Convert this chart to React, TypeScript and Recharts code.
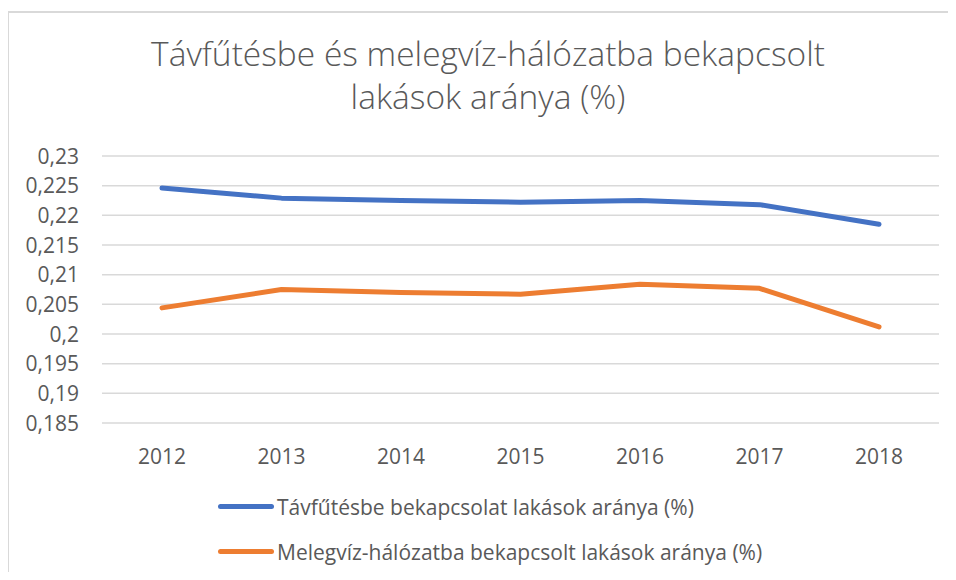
import React from "react";
import {
  LineChart, Line, XAxis, YAxis, CartesianGrid, Legend,
} from "recharts";

const years = ["2012", "2013", "2014", "2015", "2016", "2017", "2018"];
const tavfutes = [0.2246, 0.2229, 0.2225, 0.2222, 0.2225, 0.2218, 0.2185];
const melegviz = [0.2044, 0.2075, 0.207, 0.2067, 0.2084, 0.2077, 0.2012];
const yTicks = [0.185, 0.19, 0.195, 0.2, 0.205, 0.21, 0.215, 0.22, 0.225, 0.23];

const nameA = "Távfűtésbe bekapcsolat lakások aránya (%)";
const nameB = "Melegvíz-hálózatba bekapcsolt lakások aránya (%)";
const legendOrder = [nameA, nameB];

const data = years.map((y, i) => ({ year: y, a: tavfutes[i], b: melegviz[i] }));

const FONT = "'Open Sans', sans-serif";
const GRAY = "#595959";

const YTick = ({ y, payload }: any) => (
  <text x={79} y={y} dy={7.5} textAnchor="end" fill={GRAY} fontSize={21} fontFamily={FONT}>
    {String(payload.value).replace(".", ",")}
  </text>
);

const XTick = ({ x, y, payload }: any) => (
  <text x={x} y={y + 39} textAnchor="middle" fill={GRAY} fontSize={21} fontFamily={FONT}>
    {payload.value}
  </text>
);

const LegendBox = ({ payload }: any) => {
  const items = [...(payload || [])].sort(
    (p: any, q: any) => legendOrder.indexOf(p.value) - legendOrder.indexOf(q.value)
  );
  return (
    <div style={{ paddingLeft: 218, paddingTop: 21, fontFamily: FONT, fontSize: 21, color: GRAY }}>
      {items.map((p: any) => (
        <div key={p.value} style={{ display: "flex", alignItems: "center", height: 45 }}>
          <span style={{ width: 56, height: 5, borderRadius: 3, background: p.color, marginRight: 3 }} />
          <span>{p.value}</span>
        </div>
      ))}
    </div>
  );
};

export default function App() {
  return (
    <div style={{ margin: -8, width: 956, height: 580, position: "relative", overflow: "hidden", background: "#fff" }}>
      <div style={{
        position: "absolute", left: 7, top: 11, width: 1000, height: 1000,
        borderTop: "2px solid #d9d9d9", borderLeft: "2px solid #d9d9d9",
      }} />
      <div style={{
        position: "absolute", left: 0, top: 32, width: 976, textAlign: "center",
        fontFamily: FONT, fontWeight: 300, fontSize: 33.5, lineHeight: "43px", color: GRAY,
      }}>
        Távfűtésbe és melegvíz-hálózatba bekapcsolt<br />lakások aránya (%)
      </div>
      <div style={{ position: "absolute", left: 0, top: 0 }}>
        <LineChart width={956} height={580} data={data} margin={{ top: 156, right: 17, left: 0, bottom: 0 }}>
          <CartesianGrid vertical={false} stroke="#d9d9d9" strokeWidth={1.5} />
          <XAxis dataKey="year" height={40} axisLine={false} tickLine={false} tickSize={0}
            padding={{ left: 60, right: 60 }} tick={<XTick />} interval={0} />
          <YAxis width={102} domain={[0.185, 0.23]} ticks={yTicks} axisLine={false} tickLine={false}
            tick={<YTick />} interval={0} allowDataOverflow />
          <Legend verticalAlign="bottom" align="left" height={117} content={<LegendBox />} />
          <Line dataKey="a" name={nameA} stroke="#4472C4" strokeWidth={5} dot={false}
            strokeLinecap="round" strokeLinejoin="round" isAnimationActive={false} />
          <Line dataKey="b" name={nameB} stroke="#ED7D31" strokeWidth={5} dot={false}
            strokeLinecap="round" strokeLinejoin="round" isAnimationActive={false} />
        </LineChart>
      </div>
    </div>
  );
}
